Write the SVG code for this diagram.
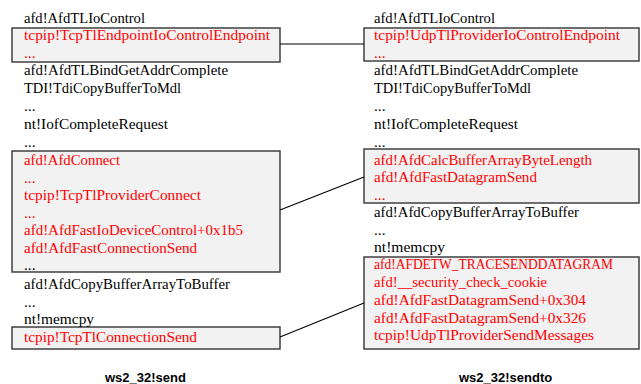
<svg xmlns="http://www.w3.org/2000/svg" width="641" height="384" viewBox="0 0 641 384">
  <style>
    text { font-family: "Liberation Serif", "Times New Roman", serif; font-size: 15.4px; fill: #000; }
    .hl { fill: #ff0000; }
    .box { fill: #f2f2f2; stroke: #404040; stroke-width: 1.5; }
    .link { stroke: #000; stroke-width: 1.1; fill: none; }
    .cap { font-family: "Liberation Sans", Arial, sans-serif; font-weight: bold; font-size: 13px; }
  </style>

  <!-- highlighted frames (drawn first so text sits on top) -->
  <g id="send-ioctl"><rect class="box" x="12" y="28" width="268" height="34"/></g>
  <g id="send-connect"><rect class="box" x="12" y="151" width="268" height="121"/></g>
  <g id="send-tcp"><rect class="box" x="12" y="327" width="268" height="22"/></g>
  <g id="sendto-ioctl"><rect class="box" x="364" y="28" width="275" height="33"/></g>
  <g id="sendto-calc"><rect class="box" x="364" y="149" width="275" height="54"/></g>
  <g id="sendto-udp"><rect class="box" x="364" y="257" width="275" height="92"/></g>

  <g id="connectors">
    <line class="link" x1="280" y1="44" x2="364" y2="44"/>
    <line class="link" x1="280" y1="210" x2="364" y2="177"/>
    <line class="link" x1="280" y1="337" x2="364" y2="303"/>
  </g>

  <!-- ws2_32!send call stack -->
  <g id="stack-send" lengthAdjust="spacingAndGlyphs">
    <text x="24" y="23" textLength="121" lengthAdjust="spacingAndGlyphs">afd!AfdTLIoControl</text>
    <text class="hl" x="24" y="40" textLength="246" lengthAdjust="spacingAndGlyphs">tcpip!TcpTlEndpointIoControlEndpoint</text>
    <text class="hl" x="24" y="58">...</text>
    <text x="24" y="75" textLength="204" lengthAdjust="spacingAndGlyphs">afd!AfdTLBindGetAddrComplete</text>
    <text x="24" y="93" textLength="157" lengthAdjust="spacingAndGlyphs">TDI!TdiCopyBufferToMdl</text>
    <text x="24" y="111">...</text>
    <text x="24" y="129" textLength="144" lengthAdjust="spacingAndGlyphs">nt!IofCompleteRequest</text>
    <text x="24" y="147">...</text>
    <text class="hl" x="24" y="165" textLength="96" lengthAdjust="spacingAndGlyphs">afd!AfdConnect</text>
    <text class="hl" x="24" y="183">...</text>
    <text class="hl" x="24" y="200" textLength="177" lengthAdjust="spacingAndGlyphs">tcpip!TcpTlProviderConnect</text>
    <text class="hl" x="24" y="218">...</text>
    <text class="hl" x="24" y="235" textLength="219" lengthAdjust="spacingAndGlyphs">afd!AfdFastIoDeviceControl+0x1b5</text>
    <text class="hl" x="24" y="253" textLength="173" lengthAdjust="spacingAndGlyphs">afd!AfdFastConnectionSend</text>
    <text x="24" y="270">...</text>
    <text x="24" y="289" textLength="206" lengthAdjust="spacingAndGlyphs">afd!AfdCopyBufferArrayToBuffer</text>
    <text x="24" y="307">...</text>
    <text x="24" y="324" textLength="70" lengthAdjust="spacingAndGlyphs">nt!memcpy</text>
    <text class="hl" x="24" y="342" textLength="173" lengthAdjust="spacingAndGlyphs">tcpip!TcpTlConnectionSend</text>
    <text class="cap" x="105" y="382">ws2_32!send</text>
  </g>

  <!-- ws2_32!sendto call stack -->
  <g id="stack-sendto">
    <text x="374" y="23" textLength="121" lengthAdjust="spacingAndGlyphs">afd!AfdTLIoControl</text>
    <text class="hl" x="374" y="40" textLength="246" lengthAdjust="spacingAndGlyphs">tcpip!UdpTlProviderIoControlEndpoint</text>
    <text class="hl" x="374" y="58">...</text>
    <text x="374" y="75" textLength="204" lengthAdjust="spacingAndGlyphs">afd!AfdTLBindGetAddrComplete</text>
    <text x="374" y="93" textLength="157" lengthAdjust="spacingAndGlyphs">TDI!TdiCopyBufferToMdl</text>
    <text x="374" y="111">...</text>
    <text x="374" y="129" textLength="144" lengthAdjust="spacingAndGlyphs">nt!IofCompleteRequest</text>
    <text x="374" y="147">...</text>
    <text class="hl" x="374" y="165" textLength="218" lengthAdjust="spacingAndGlyphs">afd!AfdCalcBufferArrayByteLength</text>
    <text class="hl" x="374" y="182" textLength="163" lengthAdjust="spacingAndGlyphs">afd!AfdFastDatagramSend</text>
    <text class="hl" x="374" y="200">...</text>
    <text x="374" y="217" textLength="205" lengthAdjust="spacingAndGlyphs">afd!AfdCopyBufferArrayToBuffer</text>
    <text x="374" y="235">...</text>
    <text x="374" y="252" textLength="71" lengthAdjust="spacingAndGlyphs">nt!memcpy</text>
    <text class="hl" x="374" y="269" textLength="239" lengthAdjust="spacingAndGlyphs">afd!AFDETW_TRACESENDDATAGRAM</text>
    <text class="hl" x="374" y="287" textLength="173" lengthAdjust="spacingAndGlyphs">afd!__security_check_cookie</text>
    <text class="hl" x="374" y="305" textLength="212" lengthAdjust="spacingAndGlyphs">afd!AfdFastDatagramSend+0x304</text>
    <text class="hl" x="374" y="323" textLength="212" lengthAdjust="spacingAndGlyphs">afd!AfdFastDatagramSend+0x326</text>
    <text class="hl" x="374" y="340" textLength="220" lengthAdjust="spacingAndGlyphs">tcpip!UdpTlProviderSendMessages</text>
    <text class="cap" x="459" y="382">ws2_32!sendto</text>
  </g>
</svg>
